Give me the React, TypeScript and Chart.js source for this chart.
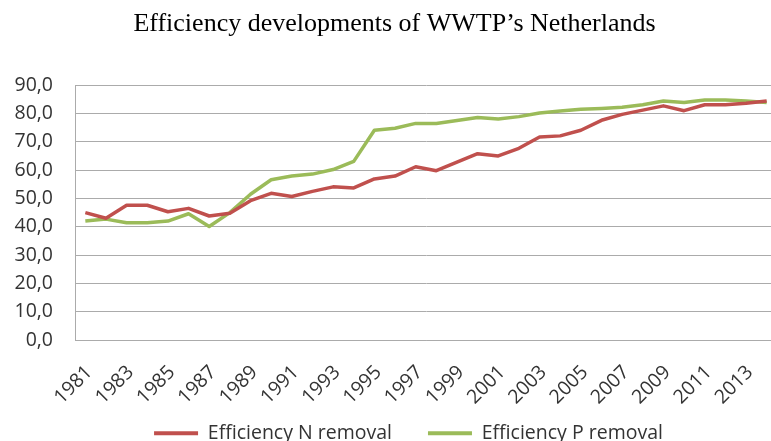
import React, { useEffect, useRef } from "react";
import { Chart, registerables } from "chart.js";

Chart.register(...registerables);

const TITLE = "Efficiency developments of WWTP’s Netherlands";

const YEARS: string[] = [
  "1981", "1982", "1983", "1984", "1985", "1986", "1987", "1988", "1989", "1990",
  "1991", "1992", "1993", "1994", "1995", "1996", "1997", "1998", "1999", "2000",
  "2001", "2002", "2003", "2004", "2005", "2006", "2007", "2008", "2009", "2010",
  "2011", "2012", "2013", "2014",
];

const N_REMOVAL: number[] = [
  45.0, 43.0, 47.6, 47.6, 45.3, 46.5, 43.8, 44.8, 49.2, 51.8,
  50.7, 52.5, 54.1, 53.7, 56.9, 57.9, 61.2, 59.8, 62.8, 65.8,
  65.0, 67.7, 71.7, 72.1, 74.1, 77.6, 79.7, 81.2, 82.7, 81.0,
  83.1, 83.1, 83.6, 84.4,
];

const P_REMOVAL: number[] = [
  42.0, 42.7, 41.4, 41.4, 42.0, 44.6, 40.1, 45.0, 51.5, 56.6,
  57.9, 58.6, 60.2, 63.1, 74.1, 74.8, 76.5, 76.5, 77.5, 78.6,
  78.1, 78.9, 80.2, 80.9, 81.5, 81.8, 82.2, 83.1, 84.4, 83.9,
  84.8, 84.8, 84.4, 83.9,
];

const SERIES_NAMES: string[] = ["Efficiency N removal", "Efficiency P removal"];
const SERIES_COLORS: string[] = ["#C0504D", "#9BBB59"];

const Y_MIN = 0;
const Y_MAX = 90;
const Y_STEP = 10;

const FONT = "'Open Sans', sans-serif";
const TEXT_COLOR = "#333333";
const GRID_COLOR = "#ababab";

export default function App() {
  const canvasRef = useRef<HTMLCanvasElement | null>(null);

  useEffect(() => {
    if (!canvasRef.current) return;

    const legendShift = {
      id: "legendShift",
      afterLayout(chart: any) {
        if (chart.legend) {
          chart.legend.left += 14;
          chart.legend.right += 14;
        }
      },
    };

    const chart = new Chart(canvasRef.current, {
      type: "line",
      data: {
        labels: YEARS,
        datasets: [
          {
            label: SERIES_NAMES[0],
            data: N_REMOVAL,
            borderColor: SERIES_COLORS[0],
            backgroundColor: SERIES_COLORS[0],
            borderWidth: 3.5,
            pointRadius: 0,
            tension: 0,
            borderJoinStyle: "round",
            fill: false,
          },
          {
            label: SERIES_NAMES[1],
            data: P_REMOVAL,
            borderColor: SERIES_COLORS[1],
            backgroundColor: SERIES_COLORS[1],
            borderWidth: 3.5,
            pointRadius: 0,
            tension: 0,
            borderJoinStyle: "round",
            fill: false,
          },
        ],
      },
      options: {
        animation: false,
        responsive: false,
        events: [],
        layout: { padding: { left: 12, right: 3, top: 0, bottom: 0 } },
        plugins: {
          title: {
            display: true,
            text: TITLE,
            color: "#000000",
            font: { family: "'Liberation Serif', 'Times New Roman', serif", size: 26, weight: "normal" },
            padding: { top: 9, bottom: 45 },
          },
          legend: {
            display: true,
            position: "bottom",
            labels: {
              color: TEXT_COLOR,
              font: { family: FONT, size: 19.5 },
              boxWidth: 44,
              boxHeight: 4,
              padding: 36,
              generateLabels: (c: any) => {
                const items = Chart.defaults.plugins.legend.labels.generateLabels(c);
                items.forEach((it: any) => {
                  it.lineWidth = 0;
                });
                return items;
              },
            },
          },
          tooltip: { enabled: false },
        },
        scales: {
          x: {
            type: "category",
            offset: true,
            grid: { display: false, drawTicks: false },
            border: { display: true, color: GRID_COLOR, width: 1 },
            ticks: {
              autoSkip: false,
              minRotation: 45,
              maxRotation: 45,
              padding: 17,
              color: TEXT_COLOR,
              font: { family: FONT, size: 19.5 },
              callback: (_v: any, i: number) => (i % 2 === 0 ? YEARS[i] : ""),
            },
            afterFit: (s: any) => {
              s.height = 47.5;
              s.paddingLeft = 0;
              s.paddingRight = 0;
              s._computeLabelArea = () => undefined;
              if (!s.__shifted) {
                const orig = Object.getPrototypeOf(s).drawLabels;
                s.drawLabels = function (area: any) {
                  const ctx = this.ctx;
                  ctx.save();
                  ctx.translate(4, 4);
                  orig.call(this, area);
                  ctx.restore();
                };
                s.__shifted = true;
              }
            },
          },
          y: {
            min: Y_MIN,
            max: Y_MAX,
            grid: { color: GRID_COLOR, lineWidth: 1, drawTicks: false },
            border: { display: true, color: GRID_COLOR, width: 1 },
            ticks: {
              stepSize: Y_STEP,
              padding: 22,
              color: TEXT_COLOR,
              font: { family: FONT, size: 19.5 },
              callback: (v: any) => Number(v).toFixed(1).replace(".", ","),
            },
            afterFit: (s: any) => {
              s.width = 63;
              s.paddingTop = 0;
              s.paddingBottom = 0;
            },
          },
        },
      },
      plugins: [legendShift],
    } as any);

    return () => {
      chart.destroy();
    };
  }, []);

  return (
    <div
      style={{
        position: "fixed",
        left: 0,
        top: 0,
        width: 771,
        height: 441,
        overflow: "hidden",
        background: "#ffffff",
      }}
    >
      <canvas ref={canvasRef} width={780} height={453} style={{ display: "block" }} />
    </div>
  );
}
